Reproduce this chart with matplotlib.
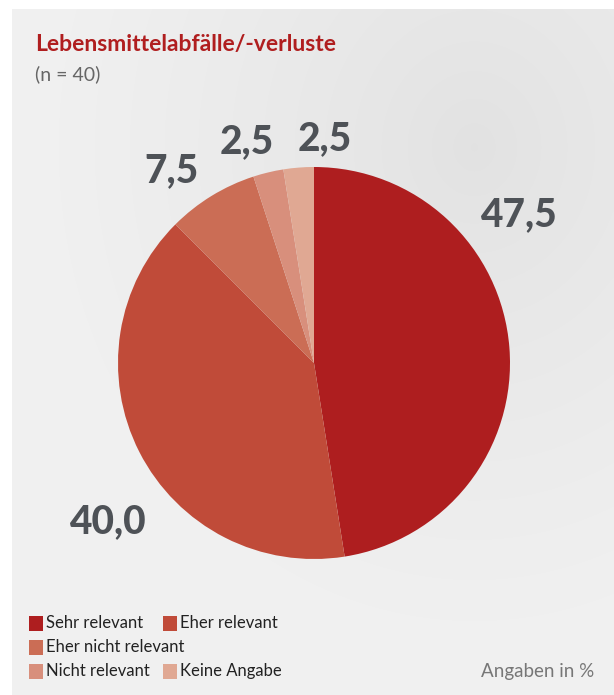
import numpy as np
import matplotlib
matplotlib.use("Agg")
import matplotlib.pyplot as plt
from matplotlib.patches import Rectangle

# ---- data ----
categories = ["Sehr relevant", "Eher relevant", "Eher nicht relevant", "Nicht relevant", "Keine Angabe"]
values = [47.5, 40.0, 7.5, 2.5, 2.5]
value_labels = ["47,5", "40,0", "7,5", "2,5", "2,5"]
colors = ["#ae1e1f", "#c04b39", "#cb6d55", "#d88f7c", "#e0a893"]
title = "Lebensmittelabfälle/-verluste"
subtitle = "(n = 40)"
note = "Angaben in %"

W, H = 614, 695
fig = plt.figure(figsize=(W / 100, H / 100), dpi=100)
fig.patch.set_facecolor("white")

def fx(x):
    return x / W

def fy(y):
    return 1 - y / H

# background panel with soft gradient
bg = fig.add_axes([fx(12), 0, 1 - fx(12), fy(9)])
bg.set_axis_off()
yy, xx = np.mgrid[0:300, 0:300]
cx, cy = 230, 60
d = np.sqrt(((xx - cx) / 300) ** 2 + ((yy - cy) / 300) ** 2)
shade = 0.885 + 0.06 * np.clip(d / 0.75, 0, 1) ** 0.8
img = np.dstack([shade, shade, shade])
bg.imshow(img, extent=[0, 1, 0, 1], aspect="auto", origin="upper",
          interpolation="bilinear")
bg.set_xlim(0, 1)
bg.set_ylim(0, 1)

# pie
cxp, cyp, r = 314, 363, 196
ax = fig.add_axes([fx(cxp - r), fy(cyp + r), 2 * r / W, 2 * r / H])
ax.set_axis_off()
ax.pie(values, colors=colors, startangle=90, counterclock=False, radius=1,
       wedgeprops=dict(linewidth=0))
ax.set_xlim(-1, 1)
ax.set_ylim(-1, 1)

# value labels (pixel positions of label centers)
label_pos = [(518, 215), (107, 522), (171, 171), (247, 142), (325, 139)]
for txt, (px, py) in zip(value_labels, label_pos):
    fig.text(fx(px), fy(py), txt, ha="center", va="center", fontsize=28,
             fontweight="black", color="#4e5257", family="Lato")

# title
fig.text(fx(35), fy(45), title, ha="left", va="center", fontsize=16.5,
         fontweight="bold", color="#b01e1f", family="Lato")
fig.text(fx(35), fy(74), subtitle, ha="left", va="center", fontsize=14,
         fontweight="normal", color="#666666", family="Lato")

# legend
legend_pos = [(29, 623), (163, 623), (29, 647), (29, 671), (163, 671)]
for cat, col, (px, py) in zip(categories, colors, legend_pos):
    fig.patches.append(Rectangle((fx(px), fy(py + 8)), 14 / W, 15 / H,
                                 transform=fig.transFigure, facecolor=col,
                                 edgecolor="none"))
    fig.text(fx(px + 17), fy(py), cat, ha="left", va="center", fontsize=12,
             color="#222222", family="Lato")

fig.text(fx(594), fy(671), note, ha="right", va="center", fontsize=13.5,
         color="#777777", family="Lato")

fig.savefig("out.png", dpi=100)
